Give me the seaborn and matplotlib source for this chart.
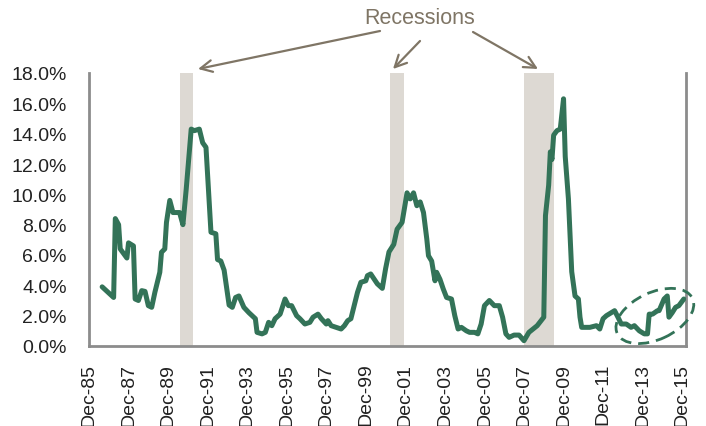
import matplotlib
matplotlib.use("Agg")
import matplotlib.pyplot as plt
import matplotlib.dates as mdates
import matplotlib.transforms as mtrans
from matplotlib.patches import Ellipse
from matplotlib.ticker import FuncFormatter, MultipleLocator
import pandas as pd
import seaborn as sns

# ---- data ----
dates = ["1986-08", "1986-11", "1987-03", "1987-04", "1987-06", "1987-07", "1987-11", "1987-12",
         "1988-03", "1988-04", "1988-06", "1988-08", "1988-10", "1988-12", "1989-02", "1989-04",
         "1989-07", "1989-08", "1989-10", "1989-11", "1990-01", "1990-03", "1990-07", "1990-09",
         "1990-11", "1991-02", "1991-04", "1991-07", "1991-09", "1991-11", "1992-02", "1992-05",
         "1992-06", "1992-08", "1992-10", "1993-01", "1993-03", "1993-05", "1993-07", "1993-10",
         "1994-01", "1994-05", "1994-06", "1994-09", "1994-11", "1995-01", "1995-03", "1995-05",
         "1995-08", "1995-11", "1996-01", "1996-03", "1996-06", "1996-08", "1996-11", "1997-02",
         "1997-04", "1997-07", "1997-09", "1997-12", "1998-01", "1998-03", "1998-06", "1998-09",
         "1998-11", "1999-01", "1999-03", "1999-05", "1999-07", "1999-09", "1999-12", "2000-01",
         "2000-03", "2000-05", "2000-07", "2000-10", "2000-12", "2001-02", "2001-05", "2001-07",
         "2001-10", "2001-11", "2002-01", "2002-03", "2002-05", "2002-07", "2002-09", "2002-11",
         "2003-01", "2003-02", "2003-04", "2003-06", "2003-07", "2003-09", "2003-11", "2004-01",
         "2004-04", "2004-06", "2004-08", "2004-10", "2005-01", "2005-03", "2005-06", "2005-08",
         "2005-10", "2005-12", "2006-03", "2006-06", "2006-09", "2006-11", "2007-01", "2007-03",
         "2007-06", "2007-09", "2007-12", "2008-03", "2008-08", "2008-12", "2009-01", "2009-03",
         "2009-04", "2009-05", "2009-06", "2009-08", "2009-10", "2009-12", "2010-01", "2010-03",
         "2010-04", "2010-05", "2010-07", "2010-09", "2010-10", "2010-11", "2011-04", "2011-08",
         "2011-10", "2011-12", "2012-02", "2012-05", "2012-07", "2012-09", "2012-11", "2013-02",
         "2013-05", "2013-07", "2013-10", "2014-01", "2014-03", "2014-04", "2014-06", "2014-09",
         "2014-10", "2015-01", "2015-03", "2015-04", "2015-06", "2015-08", "2015-10", "2016-01"]
rates = [3.9, 3.6, 3.2, 8.4, 8.0, 6.4, 5.8, 6.8,
         6.6, 3.1, 3.0, 3.65, 3.6, 2.66, 2.55, 3.54,
         4.86, 6.18, 6.4, 8.15, 9.6, 8.8, 8.8, 8.0,
         10.35, 14.3, 14.2, 14.3, 13.4, 13.1, 7.5, 7.4,
         5.7, 5.6, 5.0, 2.7, 2.55, 3.2, 3.3, 2.55,
         2.2, 1.8, 0.9, 0.8, 0.9, 1.56, 1.34, 1.8,
         2.1, 3.1, 2.66, 2.66, 2.0, 1.8, 1.45, 1.56,
         1.9, 2.1, 1.8, 1.45, 1.67, 1.34, 1.23, 1.12,
         1.34, 1.67, 1.8, 2.66, 3.54, 4.2, 4.3, 4.64,
         4.75, 4.42, 4.1, 3.8, 5.1, 6.2, 6.7, 7.7,
         8.15, 8.8, 10.1, 9.7, 10.1, 9.25, 9.5, 8.8,
         7.05, 5.95, 5.6, 4.3, 4.86, 4.4, 3.76, 3.2,
         3.1, 2.0, 1.12, 1.23, 1.0, 0.9, 0.9, 0.8,
         1.45, 2.66, 3.0, 2.66, 2.66, 1.9, 0.8, 0.57,
         0.72, 0.72, 0.35, 0.9, 1.34, 1.9, 8.6, 10.6,
         12.8, 12.3, 13.9, 14.2, 14.3, 16.3, 12.5, 9.7,
         7.3, 4.9, 3.3, 3.1, 1.9, 1.23, 1.23, 1.34,
         1.12, 1.8, 2.0, 2.2, 2.33, 1.9, 1.45, 1.45,
         1.23, 1.34, 1.0, 0.8, 0.8, 2.1, 2.1, 2.33,
         2.33, 3.1, 3.3, 1.9, 2.2, 2.55, 2.66, 3.1]

recession_starts = ["1990-07-01", "2001-03-01", "2007-12-01"]
recession_ends = ["1991-03-15", "2001-11-15", "2009-06-15"]

tick_years = list(range(1985, 2016, 2))
tick_labels = [f"Dec-{y % 100:02d}" for y in tick_years]
annotation_text = "Recessions"

# ---- style ----
sns.set_theme(style="white")
plt.rcParams["font.family"] = ["Liberation Sans", "DejaVu Sans"]

LINE = "#337358"
BAND = "#DDD9D3"
NOTE = "#7F7565"
SPINE = "#8C8C8C"

fig = plt.figure(figsize=(7.06, 4.27), dpi=100)
ax = fig.add_axes([89 / 706, 1 - 347 / 427, (686 - 89) / 706, (347 - 74) / 427])

df = pd.DataFrame({"date": pd.to_datetime(dates), "rate": rates})

for s, e in zip(recession_starts, recession_ends):
    ax.axvspan(pd.Timestamp(s), pd.Timestamp(e), ymin=0, ymax=1, color=BAND, lw=0, zorder=1)

sns.lineplot(data=df, x="date", y="rate", ax=ax, color=LINE, linewidth=3.6, zorder=3)
for ln in ax.lines:
    ln.set_solid_joinstyle("round")
    ln.set_solid_capstyle("round")

ax.set_ylim(0, 18)
ax.yaxis.set_major_locator(MultipleLocator(2))
ax.yaxis.set_major_formatter(FuncFormatter(lambda v, p: f"{v:.1f}%"))
ax.set_xlim(pd.Timestamp("1985-12-01"), pd.Timestamp("2016-02-10"))
ax.set_xticks([pd.Timestamp(f"{y}-12-01") for y in tick_years])
ax.set_xticklabels(tick_labels, rotation=90)
ax.set_xlabel("")
ax.set_ylabel("")
ax.tick_params(axis="both", length=0, labelsize=14, labelcolor="#222222")
ax.tick_params(axis="y", pad=16)
ax.tick_params(axis="x", pad=12)

for side in ["left", "right", "bottom"]:
    ax.spines[side].set_visible(True)
    ax.spines[side].set_color(SPINE)
    ax.spines[side].set_linewidth(2)
ax.spines["top"].set_visible(False)
ax.grid(False)

# dashed ellipse around the recent period (true ellipse in screen space)
trans = fig.dpi_scale_trans + mtrans.ScaledTranslation(
    mdates.date2num(pd.Timestamp("2014-07-15")), 1.98, ax.transData)
ell = Ellipse((0, 0), width=0.83, height=0.47, angle=25, fill=False,
              edgecolor=LINE, linestyle=(0, (4, 2.5)), linewidth=2.0,
              transform=trans, zorder=4, clip_on=False)
ax.add_patch(ell)

# "Recessions" annotation with arrows (figure pixel coordinates)
fig.text(420 / 706, 1 - 18 / 427, annotation_text, ha="center", va="center",
         fontsize=15.5, color=NOTE)
arrows = [((380, 427 - 32), (198, 427 - 70)),
          ((420, 427 - 42), (393, 427 - 70)),
          ((473, 427 - 33), (538, 427 - 70))]
for (x0, y0), (x1, y1) in arrows:
    ax.annotate("", xy=(x1, y1), xycoords="figure pixels",
                xytext=(x0, y0), textcoords="figure pixels",
                arrowprops=dict(arrowstyle="->,head_length=0.7,head_width=0.35",
                                color=NOTE, lw=1.6, shrinkA=0, shrinkB=0))

fig.savefig("out.png", dpi=100)
